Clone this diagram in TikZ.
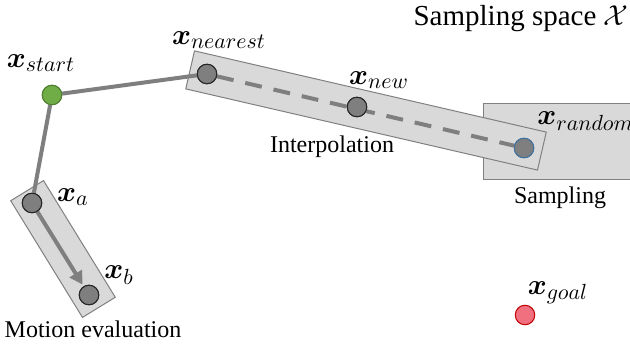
\documentclass[tikz,border=0pt]{standalone}
\usepackage{amsmath,amssymb,bm}
\usepackage{fontspec}
\setmainfont{Liberation Serif}
\newfontfamily\serifface{Liberation Serif}
\usetikzlibrary{arrows.meta}
\DeclareMathSizes{14}{14}{11}{9}
\definecolor{boxfill}{HTML}{D9D9D9}
\definecolor{boxline}{HTML}{808080}
\definecolor{linegray}{HTML}{7F7F7F}
\definecolor{dotgray}{HTML}{7F7F7F}
\definecolor{startgreen}{HTML}{70AD47}
\definecolor{startgreenb}{HTML}{507E32}
\definecolor{goalred}{HTML}{F07080}
\definecolor{goalredb}{HTML}{C00000}
\definecolor{randblue}{HTML}{41719C}
\tikzset{
  regionbox/.style={draw=boxline, fill=boxfill, line width=0.5pt, inner sep=0pt},
  pt/.style={circle, draw=black!85, fill=dotgray, line width=0.5pt, minimum size=9.75pt, inner sep=0pt},
  edgeline/.style={draw=linegray, line width=2pt},
  varlabel/.style={font=\fontsize{14}{17}\selectfont, inner sep=0pt},
  txtlabel/.style={font=\serifface\fontsize{12}{14}\selectfont, inner sep=0pt},
}
\begin{document}
\begin{tikzpicture}[x=0.5pt,y=0.5pt]
\useasboundingbox (0,0) rectangle (630,347);
% region boxes
\node[regionbox, minimum width=74.5pt, minimum height=38pt, anchor=south west] (sampbox) at (483,167) {};
\node[regionbox, minimum width=180.5pt, minimum height=19.5pt, rotate=-13] (interp) at (366,236.5) {};
\node[regionbox, minimum width=68.5pt, minimum height=19.25pt, rotate=-58.4] (motion) at (63,98) {};
% points
\node[pt, fill=startgreen, draw=startgreenb] (start) at (52,252) {};
\node[pt] (nearest) at (207,273) {};
\node[pt] (new) at (357,240) {};
\node[pt, draw=randblue] (random) at (524,199) {};
\node[pt] (a) at (32,144) {};
\node[pt] (b) at (89,52) {};
\node[pt, fill=goalred, draw=goalredb] (goal) at (525,32) {};
% connectors
\draw[edgeline] (start) -- (nearest);
\draw[edgeline] (start) -- (a);
\draw[edgeline, dash pattern=on 8.5pt off 6pt] (nearest) -- (random);
\draw[edgeline, -{Triangle[length=6.5pt,width=7pt]}, shorten >=1pt] (a) -- (b);
% redraw points on top
\node[pt, fill=startgreen, draw=startgreenb] at (start) {};
\node[pt] at (nearest) {};
\node[pt] at (new) {};
\node[pt, draw=randblue] at (random) {};
\node[pt] at (a) {};
\node[pt] at (b) {};
% labels
\node[varlabel] (lstart) at (41,284) {$\boldsymbol{x}_{start}$};
\node[varlabel] (lnearest) at (219,307) {$\boldsymbol{x}_{nearest}$};
\node[varlabel] (lnew) at (379,267) {$\boldsymbol{x}_{new}$};
\node[varlabel, anchor=west] (lrandom) at (537,226) {$\boldsymbol{x}_{random}$};
\node[varlabel] (la) at (73,150) {$\boldsymbol{x}_{a}$};
\node[varlabel] (lb) at (119,72) {$\boldsymbol{x}_{b}$};
\node[varlabel] (lgoal) at (558,54) {$\boldsymbol{x}_{goal}$};
\node[font=\serifface\fontsize{14.5}{17}\selectfont, inner sep=0pt] (title) at (521,328) {Sampling space $\mathcal{X}$};
\node[txtlabel] (tinterp) at (332,200) {Interpolation};
\node[txtlabel] (tsamp) at (560,149) {Sampling};
\node[txtlabel] (tmotion) at (93,18) {Motion evaluation};
\end{tikzpicture}
\end{document}
